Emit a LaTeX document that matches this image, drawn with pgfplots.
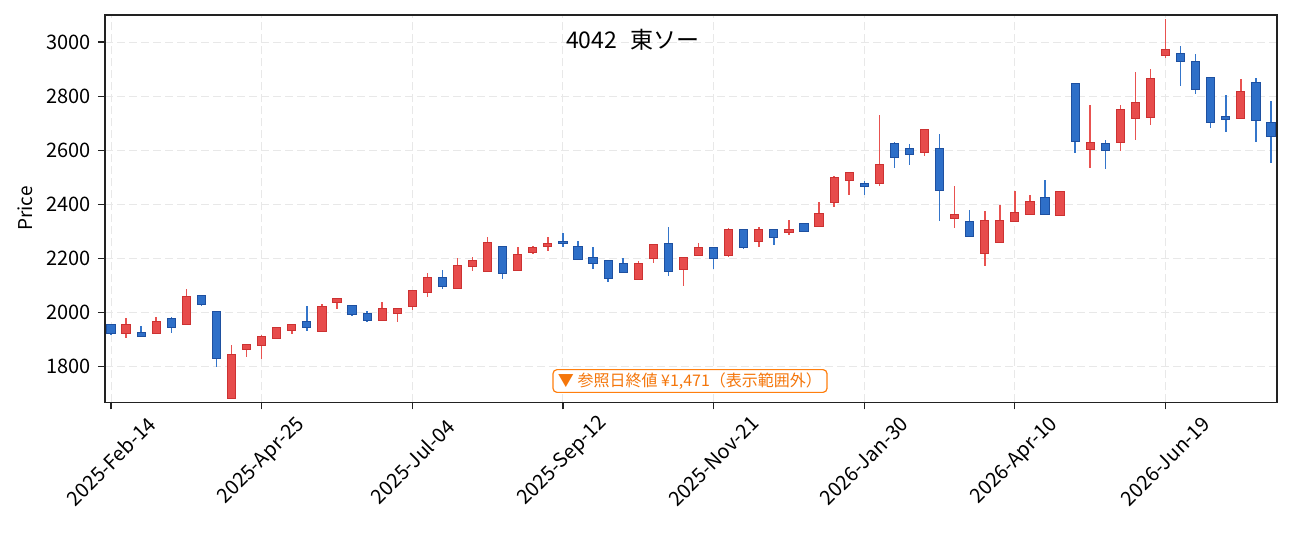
\documentclass[border=0pt]{standalone}
\usepackage{fontspec}
\setmainfont{Noto Sans CJK JP}
\usepackage{pgfplots}
\pgfplotsset{compat=1.18}
\usepackage{pgfplotstable}

\definecolor{upfill}{RGB}{231,76,76}
\definecolor{upedge}{RGB}{204,50,50}
\definecolor{upwick}{RGB}{232,82,80}
\definecolor{dnfill}{RGB}{46,111,200}
\definecolor{dnedge}{RGB}{30,80,160}
\definecolor{dnwick}{RGB}{52,117,202}
\definecolor{annor}{RGB}{255,127,14}
\definecolor{annotext}{RGB}{245,118,10}
\definecolor{axcol}{RGB}{34,34,34}

% up (close > open) candles: week index, open, high, low, close
\pgfplotstableread{
x o h l c
1 1925 1980 1905 1953
3 1925 1983 1921 1967
5 1959 2088 1957 2056
8 1686 1881 1686 1842
9 1865 1879 1835 1879
10 1880 1918 1827 1910
11 1907 1946 1905 1943
12 1937 1959 1921 1954
14 1932 2033 1928 2019
15 2040 2049 2013 2049
18 1972 2040 1969 2012
19 2000 2012 1967 2012
20 2026 2078 2008 2078
21 2077 2147 2056 2126
23 2091 2201 2090 2174
24 2173 2205 2153 2189
25 2155 2280 2154 2256
27 2158 2243 2157 2211
28 2224 2246 2216 2237
29 2247 2280 2226 2253
35 2124 2190 2119 2178
36 2201 2248 2185 2248
38 2161 2206 2097 2200
39 2214 2258 2213 2237
41 2214 2312 2205 2307
43 2265 2317 2244 2304
45 2296 2343 2286 2307
47 2321 2409 2320 2363
48 2409 2504 2392 2496
49 2491 2520 2436 2515
51 2480 2731 2466 2547
54 2593 2673 2577 2673
56 2350 2468 2311 2359
58 2221 2376 2171 2340
59 2260 2398 2257 2340
60 2339 2450 2339 2369
61 2364 2435 2361 2409
63 2360 2450 2356 2444
65 2605 2767 2536 2628
67 2631 2767 2599 2750
68 2719 2888 2636 2776
69 2724 2900 2695 2865
70 2952 3085 2942 2972
75 2719 2862 2715 2815
}\uptable

% down (close < open) candles
\pgfplotstableread{
x o h l c
0 1953 1956 1916 1925
2 1923 1951 1908 1915
4 1976 1985 1923 1947
6 2061 2066 2024 2033
7 2004 2005 1798 1833
13 1965 2025 1931 1948
16 2024 2029 1986 1996
17 1993 2006 1965 1974
22 2126 2158 2089 2099
26 2241 2247 2123 2147
30 2260 2295 2241 2257
31 2244 2265 2199 2199
32 2200 2243 2160 2184
33 2189 2190 2112 2129
34 2178 2203 2146 2151
37 2253 2317 2134 2155
40 2237 2238 2160 2203
42 2304 2305 2234 2244
44 2304 2305 2248 2281
46 2326 2331 2302 2302
50 2477 2486 2433 2468
52 2622 2631 2536 2574
53 2606 2623 2547 2587
55 2606 2660 2340 2454
57 2333 2380 2284 2284
62 2425 2491 2360 2364
64 2846 2847 2588 2635
66 2623 2637 2529 2601
71 2957 2985 2839 2930
72 2927 2955 2806 2828
73 2868 2869 2684 2705
74 2721 2803 2669 2716
76 2850 2866 2632 2712
77 2702 2782 2551 2653
}\downtable

\begin{document}
\begin{tikzpicture}
\path[use as bounding box] (-52.5pt,-64.85pt) rectangle (593pt,201.15pt);
\begin{axis}[
  at={(0,0)}, anchor=south west,
  scale only axis,
  width=586pt, height=193.65pt,
  xmin=-0.4, xmax=77.4,
  ymin=1668.4, ymax=3099.8,
  xtick={0,10,...,70},
  xticklabels={2025-Feb-14,2025-Apr-25,2025-Jul-04,2025-Sep-12,2025-Nov-21,2026-Jan-30,2026-Apr-10,2026-Jun-19},
  ytick={1800,2000,...,3000},
  tick pos=left,
  tick align=outside,
  major tick length=3.5pt,
  every tick/.style={axcol, line width=0.6pt},
  axis line style={axcol, line width=0.65pt},
  grid=major,
  major grid style={black!9, line width=0.5pt, dash pattern=on 4pt off 2pt},
  /pgf/number format/1000 sep={},
  /pgf/number format/assume math mode=true,
  tick label style={font=\fontsize{10}{12}\selectfont, text=black},
  xticklabel style={rotate=45, anchor=center},
  xticklabel shift=26pt,
  ylabel={Price},
  ylabel style={at={(axis description cs:-0.0683,0.5)}, anchor=center, font=\fontsize{9.5}{11}\selectfont},
]
% wicks
\addplot[draw=none, forget plot, error bars/.cd, y dir=both, y explicit, error mark=none,
  error bar style={draw=upwick, line width=0.75pt}]
  table[x=x, y=c, y error plus expr={\thisrow{h}-\thisrow{c}}, y error minus expr={\thisrow{c}-\thisrow{l}}] {\uptable};
\addplot[draw=none, forget plot, error bars/.cd, y dir=both, y explicit, error mark=none,
  error bar style={draw=dnwick, line width=0.75pt}]
  table[x=x, y=c, y error plus expr={\thisrow{h}-\thisrow{c}}, y error minus expr={\thisrow{c}-\thisrow{l}}] {\downtable};
% body edges
\addplot[draw=none, forget plot, error bars/.cd, y dir=both, y explicit, error mark=none,
  error bar style={draw=upedge, line width=4.6pt}]
  table[x=x, y=o, y error plus expr={\thisrow{c}-\thisrow{o}+3.7}, y error minus expr={3.7}] {\uptable};
\addplot[draw=none, forget plot, error bars/.cd, y dir=both, y explicit, error mark=none,
  error bar style={draw=dnedge, line width=4.6pt}]
  table[x=x, y=c, y error plus expr={\thisrow{o}-\thisrow{c}+3.7}, y error minus expr={3.7}] {\downtable};
% body fills
\addplot[draw=none, forget plot, error bars/.cd, y dir=both, y explicit, error mark=none,
  error bar style={draw=upfill, line width=3.6pt}]
  table[x=x, y=o, y error plus expr={\thisrow{c}-\thisrow{o}}, y error minus expr={0}] {\uptable};
\addplot[draw=none, forget plot, error bars/.cd, y dir=both, y explicit, error mark=none,
  error bar style={draw=dnfill, line width=3.6pt}]
  table[x=x, y=c, y error plus expr={\thisrow{o}-\thisrow{c}}, y error minus expr={0}] {\downtable};
\end{axis}
\node[font=\fontsize{11.5}{14}\selectfont, text=black] at (264pt,181.15pt) {4042\hspace{0.6em}東ソー};
\node[draw=annor, fill=white, rounded corners=2pt, line width=0.6pt, text=annotext,
  font=\fontsize{8}{9.5}\selectfont, inner xsep=2.5pt, inner ysep=1.5pt] at (292.5pt,10.65pt)
  {▼ 参照日終値 ¥1,471（表示範囲外）};
\end{tikzpicture}
\end{document}
